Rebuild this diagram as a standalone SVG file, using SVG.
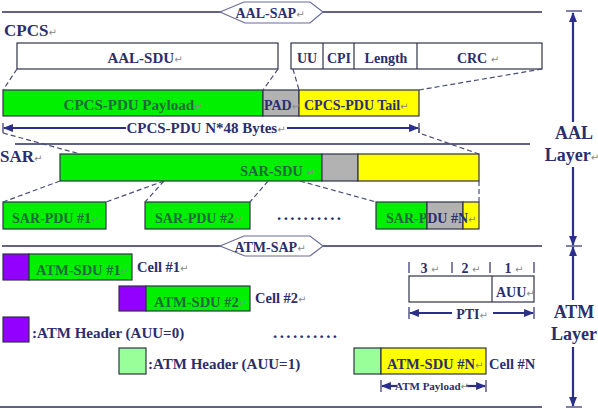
<svg xmlns="http://www.w3.org/2000/svg" width="598" height="416" viewBox="0 0 598 416">
<defs>
<style>
text{font-family:"Liberation Serif","Times New Roman",serif;font-weight:bold;fill:#2b2e6e}
.m{font-size:10px;fill:#8a8a8a;font-weight:normal;font-family:"DejaVu Sans",sans-serif}
.g{fill:#1d6a3c}
.box{stroke:#2f3348;stroke-width:1.2}
.grn{fill:#00f000}.gry{fill:#b2b2b2}.yel{fill:#ffff00}.pur{fill:#9400ff}.lgr{fill:#99ff99}.wht{fill:#fff}
.sep{stroke:#2b2e5e;stroke-width:1.4;fill:none}
.dash{stroke:#4a4d78;stroke-width:1.2;stroke-dasharray:5 3;fill:none}
.arr{stroke:#2b2e8a;stroke-width:2.2;fill:none}
.tick{stroke:#2b2e6e;stroke-width:1.2;fill:none}
.sap{fill:#fff;stroke:#6a6d98;stroke-width:1.2}
.dots{font-size:17px;letter-spacing:2.4px}
</style>
<marker id="ah" viewBox="0 0 10 8" refX="9" refY="4" markerWidth="4.5" markerHeight="3.6" orient="auto-start-reverse" markerUnits="strokeWidth">
<path d="M0,0 L10,4 L0,8 Z" fill="#2b2e8a"/>
</marker>
</defs>
<rect width="598" height="416" fill="#fff"/>

<g id="separators">
<line class="sep" x1="2" y1="12" x2="222" y2="12"/>
<line class="sep" x1="322" y1="12" x2="542" y2="12"/>
<line class="sep" x1="15" y1="144" x2="530" y2="144"/>
<line class="sep" x1="2" y1="246" x2="222" y2="246"/>
<line class="sep" x1="322" y1="246" x2="542" y2="246"/>
<line class="sep" x1="0" y1="407" x2="542" y2="407"/>
</g>

<g id="aal-sap">
<polygon class="sap" points="220,12 244,2 310,2 323,12 310,23 245,23"/>
<text x="270" y="18" font-size="14" text-anchor="middle">AAL-SAP<tspan class="m">↵</tspan></text>
</g>
<g id="atm-sap">
<polygon class="sap" points="220,246 244,236 310,236 323,246 310,256 245,256"/>
<text x="270" y="252" font-size="14" text-anchor="middle">ATM-SAP<tspan class="m">↵</tspan></text>
</g>

<g id="label-cpcs"><text x="4" y="36" font-size="17">CPCS<tspan class="m">↵</tspan></text></g>
<g id="label-sar"><text x="0" y="162" font-size="17">SAR<tspan class="m">↵</tspan></text></g>

<g id="aal-sdu">
<rect class="box wht" x="17" y="43" width="261" height="26"/>
<text x="145" y="63" font-size="15" text-anchor="middle">AAL-SDU<tspan class="m">↵</tspan></text>
</g>
<g id="trailer-fields">
<rect class="box wht" x="291" y="43" width="251" height="26"/>
<line class="box" x1="323" y1="43" x2="323" y2="69"/>
<line class="box" x1="354" y1="43" x2="354" y2="69"/>
<line class="box" x1="417" y1="43" x2="417" y2="69"/>
<text x="307" y="63" font-size="14" text-anchor="middle">UU</text>
<text x="339" y="63" font-size="14" text-anchor="middle">CPI</text>
<text x="386" y="63" font-size="14" text-anchor="middle">Length</text>
<text x="478" y="63" font-size="14" text-anchor="middle">CRC <tspan class="m">↵</tspan></text>
</g>

<g id="cpcs-pdu">
<rect class="box grn" x="3" y="90" width="260" height="26"/>
<rect class="box gry" x="263" y="90" width="36" height="26"/>
<rect class="box yel" x="299" y="90" width="120" height="26"/>
<text class="g" x="133" y="110" font-size="15" text-anchor="middle">CPCS-PDU Payload<tspan class="m">↵</tspan></text>
<text x="264" y="110" font-size="14">PAD<tspan class="m">↵</tspan></text>
<text x="304" y="110" font-size="14">CPCS-PDU Tail<tspan class="m">↵</tspan></text>
</g>

<g id="cpcs-length">
<line class="tick" x1="3" y1="123" x2="3" y2="133"/>
<line class="tick" x1="419" y1="123" x2="419" y2="133"/>
<line class="arr" x1="4" y1="128" x2="126" y2="128" marker-start="url(#ah)"/>
<line class="arr" x1="287" y1="128" x2="418" y2="128" marker-end="url(#ah)"/>
<text x="206" y="133" font-size="15" text-anchor="middle">CPCS-PDU N*48 Bytes<tspan class="m">↵</tspan></text>
</g>

<g id="sar-sdu">
<rect class="box grn" x="60" y="154" width="262" height="27"/>
<rect class="box gry" x="322" y="154" width="36" height="27"/>
<rect class="box yel" x="358" y="154" width="121" height="27"/>
<text class="g" x="240" y="176" font-size="14.5">SAR-SDU <tspan class="m">↵</tspan></text>
</g>

<g id="sar-pdu-1">
<rect class="box grn" x="3" y="202" width="103" height="27"/>
<text class="g" x="12" y="223" font-size="14">SAR-PDU #1<tspan class="m">↵</tspan></text>
</g>
<g id="sar-pdu-2">
<rect class="box grn" x="145" y="202" width="105" height="27"/>
<text class="g" x="155" y="223" font-size="14">SAR-PDU #2<tspan class="m">↵</tspan></text>
</g>
<g id="sar-dots"><text class="dots" x="277" y="220">..........</text></g>
<g id="sar-pdu-n">
<rect class="box grn" x="376" y="202" width="51" height="27"/>
<rect class="box gry" x="427" y="202" width="36" height="27"/>
<rect class="box yel" x="463" y="202" width="16" height="27"/>
<text x="386" y="223" font-size="14"><tspan class="g">SAR-P</tspan>DU #N<tspan class="m">↵</tspan></text>
</g>

<g id="connectors">
<line class="dash" x1="17" y1="69" x2="3" y2="90"/>
<line class="dash" x1="278" y1="69" x2="263" y2="90"/>
<line class="dash" x1="293" y1="69" x2="299" y2="90"/>
<line class="dash" x1="542" y1="69" x2="419" y2="90"/>
<line class="dash" x1="3" y1="133" x2="80" y2="154"/>
<polyline class="dash" points="419,128 419,133 479,154"/>
<line class="dash" x1="60" y1="181" x2="3" y2="202"/>
<line class="dash" x1="164" y1="181" x2="106" y2="202"/>
<line class="dash" x1="164" y1="181" x2="145" y2="202"/>
<line class="dash" x1="268" y1="181" x2="250" y2="202"/>
<line class="dash" x1="300" y1="181" x2="376" y2="202"/>
<line class="dash" x1="479" y1="181" x2="479" y2="202"/>
</g>

<g id="cell-1">
<rect class="box pur" x="3" y="254" width="26" height="26"/>
<rect class="box grn" x="29" y="254" width="103" height="26"/>
<text class="g" x="36" y="275" font-size="14.5">ATM-SDU #1<tspan class="m">↵</tspan></text>
<text x="137" y="272" font-size="14.5">Cell #1<tspan class="m">↵</tspan></text>
</g>
<g id="cell-2">
<rect class="box pur" x="119" y="286" width="27" height="25"/>
<rect class="box grn" x="146" y="286" width="104" height="25"/>
<text class="g" x="154" y="307" font-size="14.5">ATM-SDU #2<tspan class="m">↵</tspan></text>
<text x="255" y="303" font-size="14.5">Cell #2<tspan class="m">↵</tspan></text>
</g>
<g id="legend-auu0">
<rect class="box pur" x="3" y="317" width="26" height="25"/>
<text x="32" y="338" font-size="15">:ATM Header (AUU=0)</text>
</g>
<g id="atm-dots"><text class="dots" x="273" y="338">..........</text></g>
<g id="legend-auu1">
<rect class="box lgr" x="119" y="348" width="27" height="26"/>
<text x="148" y="369" font-size="15">:ATM Header (AUU=1)</text>
</g>
<g id="cell-n">
<rect class="box lgr" x="354" y="348" width="27" height="26"/>
<rect class="box yel" x="381" y="348" width="105" height="26"/>
<text x="387" y="369" font-size="14.5">ATM-SDU #N<tspan class="m">↵</tspan></text>
<text x="489" y="369" font-size="14.5">Cell #N</text>
</g>
<g id="atm-payload">
<line class="tick" x1="381" y1="380" x2="381" y2="392"/>
<line class="tick" x1="486" y1="380" x2="486" y2="392"/>
<line class="arr" x1="382" y1="386" x2="397" y2="386" stroke-width="1.8" marker-start="url(#ah)"/>
<line class="arr" x1="466" y1="386" x2="485" y2="386" stroke-width="1.8" marker-end="url(#ah)"/>
<text x="432" y="390" font-size="11" text-anchor="middle">ATM Payload<tspan class="m" font-size="8">↵</tspan></text>
</g>

<g id="pti">
<line class="tick" x1="409" y1="262" x2="409" y2="273"/>
<line class="tick" x1="452" y1="262" x2="452" y2="273"/>
<line class="tick" x1="490" y1="262" x2="490" y2="273"/>
<line class="tick" x1="534" y1="262" x2="534" y2="273"/>
<text x="430" y="273" font-size="14" text-anchor="middle">3 <tspan class="m">↵</tspan></text>
<text x="471" y="273" font-size="14" text-anchor="middle">2 <tspan class="m">↵</tspan></text>
<text x="514" y="273" font-size="14" text-anchor="middle">1 <tspan class="m">↵</tspan></text>
<rect class="box wht" x="409" y="276" width="125" height="26"/>
<line class="box" x1="492" y1="276" x2="492" y2="302"/>
<text x="496" y="297" font-size="14">AUU<tspan class="m">↵</tspan></text>
<line class="tick" x1="409" y1="307" x2="409" y2="319"/>
<line class="tick" x1="534" y1="307" x2="534" y2="319"/>
<line class="arr" x1="410" y1="313" x2="452" y2="313" marker-start="url(#ah)"/>
<line class="arr" x1="493" y1="313" x2="533" y2="313" marker-end="url(#ah)"/>
<text x="472" y="319" font-size="14" text-anchor="middle">PTI<tspan class="m">↵</tspan></text>
</g>

<g id="aal-layer">
<line class="tick" x1="566" y1="11" x2="582" y2="11" stroke-width="1.5"/>
<line class="arr" x1="573" y1="122" x2="573" y2="13" stroke-width="2.5" marker-end="url(#ah)"/>
<line class="arr" x1="573" y1="167" x2="573" y2="245" stroke-width="2.5" marker-end="url(#ah)"/>
<text x="574" y="139" font-size="18" text-anchor="middle">AAL</text>
<text x="572" y="161" font-size="18" text-anchor="middle">Layer<tspan class="m">↵</tspan></text>
</g>
<g id="atm-layer">
<line class="tick" x1="566" y1="246" x2="582" y2="246" stroke-width="1.5"/>
<line class="arr" x1="573" y1="300" x2="573" y2="247" stroke-width="2.5" marker-end="url(#ah)"/>
<line class="arr" x1="573" y1="347" x2="573" y2="406" stroke-width="2.5" marker-end="url(#ah)"/>
<line class="tick" x1="566" y1="407" x2="582" y2="407" stroke-width="1.5"/>
<text x="574" y="318" font-size="18" text-anchor="middle">ATM</text>
<text x="574" y="340" font-size="18" text-anchor="middle">Layer</text>
</g>
</svg>
